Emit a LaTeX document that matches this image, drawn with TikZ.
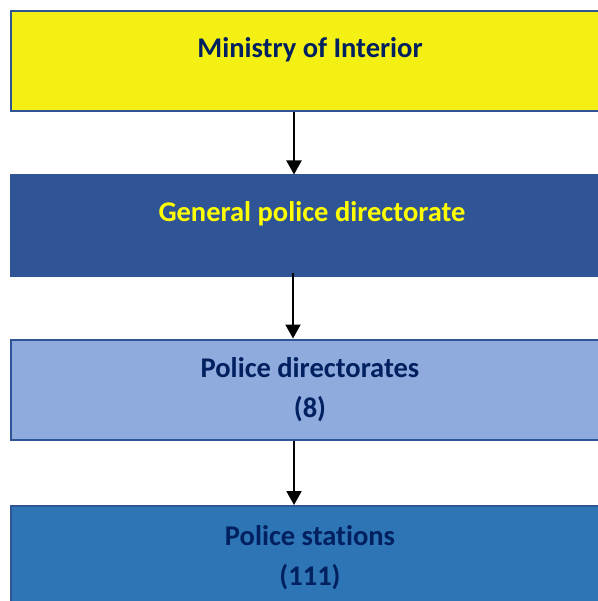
\documentclass[tikz,border=0pt]{standalone}
\usepackage{fontspec}
\setmainfont[Ligatures=CommonOff]{Carlito}
\usetikzlibrary{arrows.meta}
\definecolor{navy}{HTML}{002060}
\definecolor{frameblue}{HTML}{2F5597}
\definecolor{sunyellow}{HTML}{F5F014}
\definecolor{deepblue}{HTML}{2F5597}
\definecolor{paleblue}{HTML}{8FAADC}
\definecolor{midblue}{HTML}{2E75B6}
\definecolor{textyellow}{HTML}{FFFF00}
\tikzset{
  levelbox/.style={rectangle, minimum width=598pt, minimum height=100pt,
    inner sep=0pt, line width=2pt, draw=frameblue},
  leveltext/.style={font=\bfseries\fontsize{28.5}{40}\selectfont, color=navy,
    align=center, inner sep=0pt},
  down/.style={line width=2pt, -{Triangle[width=15pt,length=14pt]}},
}
\begin{document}
\begin{tikzpicture}[x=1pt,y=-1pt]
  \useasboundingbox (0,0) rectangle (597,601);
  % organisation levels
  \node[levelbox, fill=sunyellow] (b1) at (310,61) {};
  \node[levelbox, fill=deepblue, draw=deepblue] (b2) at (310,225.5) {};
  \node[levelbox, fill=paleblue] (b3) at (310,389.5) {};
  \node[levelbox, fill=midblue, minimum height=102pt] (b4) at (310,557) {};
  % labels
  \node[leveltext] (t1) at (310,49.5) {Ministry of Interior};
  \node[leveltext, color=textyellow] (t2) at (312,214) {General police directorate};
  \node[leveltext] (t3) at (310,390) {Police directorates\\(8)};
  \node[leveltext] (t4) at (310,558) {Police stations\\(111)};
  % hierarchy arrows
  \draw[down] ([xshift=-16pt]b1.south) -- ([xshift=-16pt]b2.north);
  \draw[down] ([xshift=-17pt,yshift=4pt]b2.south) -- ([xshift=-17pt]b3.north);
  \draw[down] ([xshift=-16pt]b3.south) -- ([xshift=-16pt]b4.north);
\end{tikzpicture}
\end{document}
